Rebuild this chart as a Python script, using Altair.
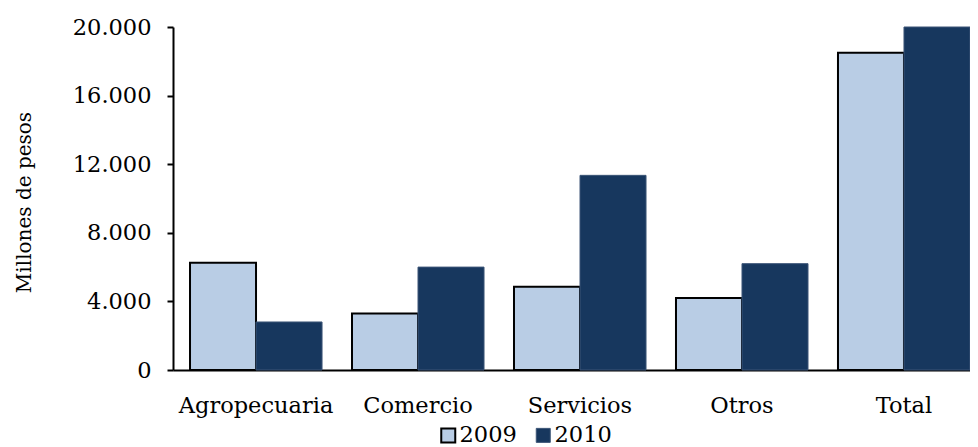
import altair as alt
import pandas as pd

categories = ["Agropecuaria", "Comercio", "Servicios", "Otros", "Total"]
values_2009 = [6250, 3300, 4850, 4200, 18500]
values_2010 = [2800, 6000, 11350, 6200, 20000]
years = ["2009", "2010"]
y_ticks = [0, 4000, 8000, 12000, 16000, 20000]

rows = []
for cat, v in zip(categories, values_2009):
    rows.append({"categoria": cat, "anio": "2009", "valor": v})
for cat, v in zip(categories, values_2010):
    rows.append({"categoria": cat, "anio": "2010", "valor": v})
df = pd.DataFrame(rows)

FONT = "DejaVu Serif"

chart = alt.Chart(df).mark_bar().encode(
    x=alt.X("categoria:N", sort=categories,
            scale=alt.Scale(paddingInner=0.185, paddingOuter=0.0525, align=1),
            axis=alt.Axis(title=None, labelAngle=0, ticks=False, tickSize=0,
                          labelPadding=42, labelBaseline="alphabetic",
                          labelFont=FONT, labelFontSize=22.5, labelColor="black",
                          domainColor="black", domainWidth=2)),
    xOffset=alt.XOffset("anio:N", sort=years,
                        scale=alt.Scale(paddingInner=0, paddingOuter=0)),
    y=alt.Y("valor:Q",
            scale=alt.Scale(domain=[0, 20000], nice=False),
            axis=alt.Axis(title="Millones de pesos", values=y_ticks, grid=False,
                          labelExpr="replace(format(datum.value, ','), ',', '.')",
                          labelFont=FONT, labelFontSize=22.5, labelColor="black",
                          labelPadding=16, tickSize=6, tickWidth=2, tickColor="black",
                          domainColor="black", domainWidth=2,
                          titleFont=FONT, titleFontSize=20, titleFontWeight="normal",
                          titleColor="black", titleAngle=-90, titleX=-149,
                          titleY=175, titleAlign="center", titleBaseline="middle")),
    color=alt.Color("anio:N", sort=years,
                    scale=alt.Scale(domain=years, range=["#b9cde5", "#17375e"]),
                    legend=alt.Legend(title=None, orient="none", legendX=264,
                                      legendY=397, direction="horizontal",
                                      symbolType="square", symbolSize=196,
                                      symbolStrokeWidth=2, symbolOpacity=1,
                                      labelFont=FONT, labelFontSize=22.5,
                                      labelColor="black", labelOffset=0,
                                      columnPadding=15)),
    stroke=alt.Stroke("anio:N", sort=years,
                      scale=alt.Scale(domain=years, range=["black", "#3c5577"]),
                      legend=alt.Legend(title=None, orient="none", legendX=264,
                                        legendY=397, direction="horizontal")),
    strokeWidth=alt.StrokeWidth("anio:N", sort=years,
                                scale=alt.Scale(domain=years, range=[2, 1]),
                                legend=None),
    order=alt.Order("anio:N"),
).properties(
    width=797,
    height=343,
    autosize=alt.AutoSizeParams(type="none"),
    padding={"left": 165, "top": 19, "right": 0, "bottom": 77},
).configure_view(stroke=None).configure_mark(opacity=1)

chart.save("out.html", embed_options={"renderer": "svg", "actions": False})
